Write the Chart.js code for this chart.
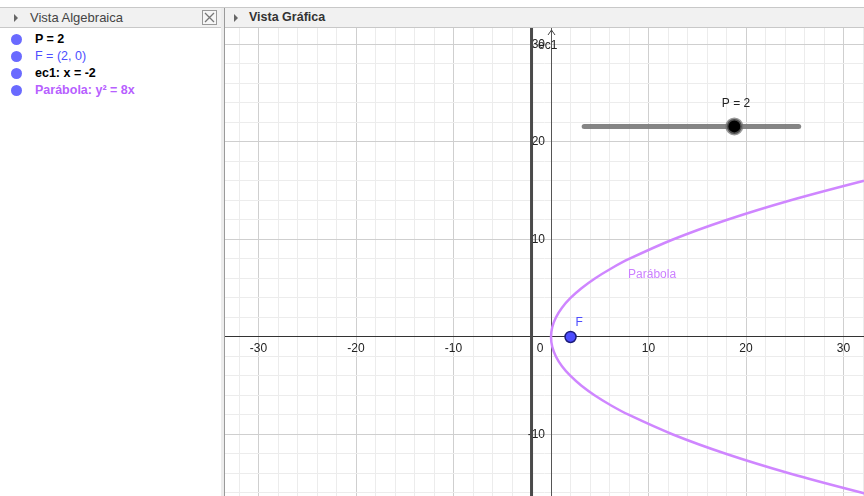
<!DOCTYPE html>
<html>
<head>
<meta charset="utf-8">
<script src="https://cdn.jsdelivr.net/npm/chart.js@4/dist/chart.umd.min.js"></script>
<style>
  body { margin: 0; width: 864px; height: 496px; overflow: hidden; background: #fff; font-family: "Liberation Sans", Arial, sans-serif; position: relative; }
  .topline { position: absolute; left: 0; top: 7px; width: 864px; height: 1px; background: #c8c8c8; }
  .hdr { position: absolute; top: 8px; height: 20px; background: #f1f1f1; border-bottom: 1px solid #c8c8c8; box-sizing: border-box; }
  .tri { position: absolute; top: 6px; width: 0; height: 0; border-top: 4px solid transparent; border-bottom: 4px solid transparent; border-left: 4px solid #666; }
  .hdr span { position: absolute; top: 2px; font-size: 13px; color: #444; white-space: nowrap; }
  .divider { position: absolute; left: 221px; top: 8px; width: 3px; height: 488px; background: #ececec; }
  .divline { position: absolute; left: 224px; top: 8px; width: 1px; height: 488px; background: #9a9a9a; }
  .row { position: absolute; left: 0; height: 17px; font-size: 12.5px; font-weight: bold; white-space: nowrap; }
  .row i { position: absolute; left: 11px; top: 3px; width: 11px; height: 11px; border-radius: 50%; background: #6a6aff; }
  .row span { position: absolute; left: 35px; top: 1px; }
  #wrap { position: absolute; left: 225px; top: 28px; width: 639px; height: 468px; overflow: hidden; }
</style>
</head>
<body>
<div class="topline"></div>
<div class="hdr" style="left:0;width:221px;">
  <div class="tri" style="left:14px;"></div>
  <span style="left:30px;">Vista Algebraica</span>
  <svg style="position:absolute;left:202px;top:2px" width="15" height="15">
    <rect x="0.5" y="0.5" width="14" height="14" fill="#f6f6f6" stroke="#999"/>
    <path d="M3 3 L12 12 M12 3 L3 12" stroke="#777" stroke-width="1.3"/>
  </svg>
</div>
<div class="hdr" style="left:225px;width:639px;">
  <div class="tri" style="left:9px;"></div>
  <span style="left:24px;font-weight:bold;font-size:12.5px;color:#333;">Vista Gráfica</span>
</div>
<div class="divider"></div>
<div class="divline"></div>

<div class="row" style="top:31px;"><i></i><span style="color:#000;">P = 2</span></div>
<div class="row" style="top:48px;"><i></i><span style="color:#4d4dff;font-weight:normal;">F = (2, 0)</span></div>
<div class="row" style="top:65px;"><i></i><span style="color:#000;">ec1: x = -2</span></div>
<div class="row" style="top:82px;"><i></i><span style="color:#b760ff;">Parábola: y² = 8x</span></div>

<div id="wrap"><canvas id="graph" width="639" height="468"></canvas></div>

<script>
// view window (units)
const xMin = -33.44, xMax = 32.1;
const yMin = -16.31, yMax = 31.69;

// grid every 2, labels every 10
const gridX = [-32,-30,-28,-26,-24,-22,-20,-18,-16,-14,-12,-10,-8,-6,-4,-2,0,2,4,6,8,10,12,14,16,18,20,22,24,26,28,30,32];
const gridY = [-16,-14,-12,-10,-8,-6,-4,-2,0,2,4,6,8,10,12,14,16,18,20,22,24,26,28,30];
const xLabels = [-30, -20, -10, 10, 20, 30];
const yLabels = [-10, 10, 20, 30];

// parabola y^2 = 8x
const parabolaY = [-17,-16,-14,-12,-10,-8,-7,-6,-5,-4,-3,-2,-1,0,1,2,3,4,5,6,7,8,10,12,14,16,17];
const parabolaX = [36.125,32,24.5,18,12.5,8,6.125,4.5,3.125,2,1.125,0.5,0.125,0,0.125,0.5,1.125,2,3.125,4.5,6.125,8,12.5,18,24.5,32,36.125];

const focus = [2, 0];
const directrixX = -2;

// slider P = 2
const sliderStart = [3.4, 21.6];
const sliderEnd = [25.4, 21.6];
const sliderKnob = [18.8, 21.6];

const parabolaData = parabolaX.map((x, i) => ({x: x, y: parabolaY[i]}));

function gridColor(ctx) {
  const v = ctx.tick ? ctx.tick.value : 0;
  return v % 10 === 0 ? '#cfcfcf' : '#ececec';
}

// axes sit inside the view, so they should not push the plot area in
function noPadding(s) {
  s.paddingLeft = 0; s.paddingRight = 0; s.paddingTop = 0; s.paddingBottom = 0;
}

// extra texts on the graphics view
const labelsPlugin = {
  id: 'ggbLabels',
  afterDatasetsDraw(chart) {
    const c = chart.ctx, sx = chart.scales.x, sy = chart.scales.y;
    const px = v => sx.getPixelForValue(v), py = v => sy.getPixelForValue(v);
    c.save();
    c.textBaseline = 'middle';
    c.font = '12px "Liberation Sans", Arial, sans-serif';
    c.fillStyle = '#222';
    c.textAlign = 'center';
    c.fillText('0', px(-1.13), py(-1.23));
    c.textAlign = 'left';
    c.fillText('ec1', px(-1.33), py(29.9));
    c.textAlign = 'center';
    c.fillText('P = 2', px(18.97), py(23.9));
    c.textAlign = 'left';
    c.fillStyle = '#4d4dff';
    c.fillText('F', px(2.5), py(1.49));
    c.fillStyle = '#cc80ff';
    c.fillText('Parábola', px(7.9), py(6.36));
    // arrow on top of y axis
    const ax = Math.round(px(0)) + 0.5, top = chart.chartArea.top + 2;
    c.strokeStyle = '#444';
    c.lineWidth = 1;
    c.beginPath();
    c.moveTo(ax - 3.5, top + 5); c.lineTo(ax, top); c.lineTo(ax + 3.5, top + 5);
    c.stroke();
    c.restore();
  }
};

new Chart(document.getElementById('graph'), {
  type: 'scatter',
  data: {
    datasets: [
      { data: [{x: focus[0], y: focus[1]}], pointRadius: 5.5, pointBackgroundColor: '#4d4dff', pointBorderColor: '#1c1c7a', pointBorderWidth: 1.5 },
      { data: [{x: sliderKnob[0], y: sliderKnob[1]}], pointRadius: 7.5, pointBackgroundColor: '#000', pointBorderColor: 'rgba(110,110,110,0.7)', pointBorderWidth: 3 },
      { data: [{x: sliderStart[0], y: sliderStart[1]}, {x: sliderEnd[0], y: sliderEnd[1]}], showLine: true, pointRadius: 0, borderColor: 'rgba(120,120,120,0.9)', borderWidth: 5, borderCapStyle: 'round' },
      { data: parabolaData, showLine: true, pointRadius: 0, borderColor: '#cf86ff', borderWidth: 2.5, tension: 0.35 },
      { data: [{x: directrixX, y: yMin - 5}, {x: directrixX, y: yMax + 5}], showLine: true, pointRadius: 0, borderColor: '#4a4a4a', borderWidth: 3 }
    ]
  },
  options: {
    responsive: false,
    animation: false,
    devicePixelRatio: 1,
    layout: { padding: 0, autoPadding: false },
    plugins: { legend: { display: false }, tooltip: { enabled: false } },
    scales: {
      x: {
        type: 'linear', min: xMin, max: xMax, position: { y: 0 },
        afterBuildTicks: s => { s.ticks = gridX.map(v => ({value: v})); },
        afterFit: noPadding,
        grid: { color: gridColor, drawTicks: false },
        border: { color: '#333', width: 1 },
        ticks: {
          autoSkip: false, maxRotation: 0, padding: 5, color: '#222',
          font: { family: '"Liberation Sans", Arial, sans-serif', size: 12 },
          callback: v => xLabels.includes(v) ? String(v) : ''
        }
      },
      y: {
        type: 'linear', min: yMin, max: yMax, position: { x: 0 },
        afterBuildTicks: s => { s.ticks = gridY.map(v => ({value: v})); },
        afterFit: noPadding,
        grid: { color: gridColor, drawTicks: false },
        border: { color: '#555', width: 1 },
        ticks: {
          autoSkip: false, padding: 6, color: '#222',
          font: { family: '"Liberation Sans", Arial, sans-serif', size: 12 },
          // en space keeps the label clear of the axis line
          callback: v => yLabels.includes(v) ? String(v) + '\u2002' : ''
        }
      }
    }
  },
  plugins: [labelsPlugin]
});
</script>
</body>
</html>
